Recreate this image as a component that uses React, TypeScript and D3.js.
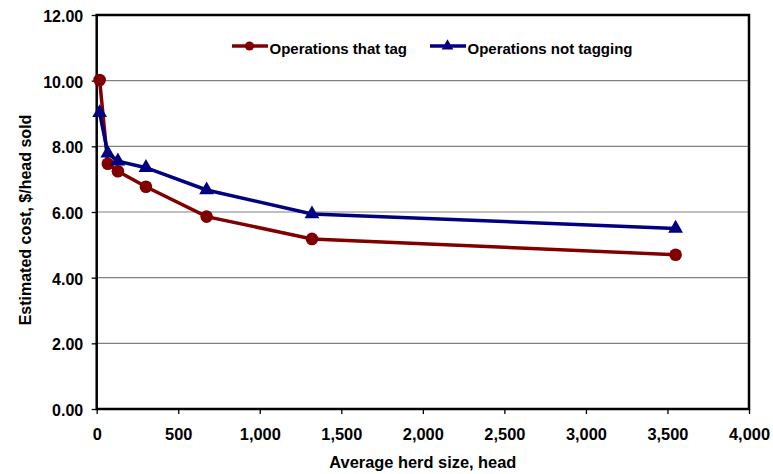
import { useEffect, useRef } from 'react';
import * as d3 from 'd3';

// herd size (head) for each point
const herdSize = [18, 68, 130, 302, 674, 1320, 3550];
// $/head sold
const tagCost = [10.02, 7.47, 7.24, 6.77, 5.86, 5.18, 4.7];
const noTagCost = [9.02, 7.79, 7.55, 7.35, 6.67, 5.94, 5.5];

const seriesNames = ['Operations that tag', 'Operations not tagging'];
const xTicks = [0, 500, 1000, 1500, 2000, 2500, 3000, 3500, 4000];
const yTicks = [0, 2, 4, 6, 8, 10, 12];

export default function App() {
  const ref = useRef<SVGSVGElement>(null);

  useEffect(() => {
    if (!ref.current) return;
    const svg = d3.select(ref.current);
    svg.selectAll('*').remove();

    const left = 96.7, right = 749, top = 15, bottom = 409;
    const font = 'Liberation Sans, Arial, sans-serif';

    const x = d3.scaleLinear().domain([0, 4000]).range([left, right]);
    const y = d3.scaleLinear().domain([0, 12]).range([bottom, top]);

    // gridlines
    svg.append('g')
      .selectAll('line')
      .data(yTicks.filter(t => t > 0 && t < 12))
      .enter()
      .append('line')
      .attr('x1', left).attr('x2', right)
      .attr('y1', d => y(d)).attr('y2', d => y(d))
      .attr('stroke', '#808080')
      .attr('stroke-width', 1.2);

    // axes
    const fmtX = d3.format(',');
    const xAxis = svg.append('g')
      .attr('transform', `translate(0,${bottom})`)
      .call(d3.axisBottom(x).tickValues(xTicks).tickSize(5).tickFormat(d => fmtX(d as number)));
    xAxis.select('.domain').remove();
    xAxis.selectAll('line').attr('stroke', '#000').attr('stroke-width', 1.3);
    xAxis.selectAll('text')
      .attr('y', 31).attr('dy', 0)
      .attr('font-family', font).attr('font-size', 16.4).attr('font-weight', 'bold').attr('fill', '#000');

    const yAxis = svg.append('g')
      .attr('transform', `translate(${left},0)`)
      .call(d3.axisLeft(y).tickValues(yTicks).tickSize(5).tickFormat(d => (d as number).toFixed(2)));
    yAxis.select('.domain').remove();
    yAxis.selectAll('line').attr('stroke', '#000').attr('stroke-width', 1.3);
    yAxis.selectAll('text')
      .attr('x', -13.5).attr('dy', '0.4em')
      .attr('font-family', font).attr('font-size', 16).attr('font-weight', 'bold').attr('fill', '#000');

    // plot frame
    svg.append('rect')
      .attr('x', left).attr('y', top)
      .attr('width', right - left).attr('height', bottom - top)
      .attr('fill', 'none')
      .attr('stroke', '#000')
      .attr('stroke-width', 2.5);

    const colors = ['#800000', '#000080'];
    const values = [tagCost, noTagCost];
    const tri = d3.symbol().type(d3.symbolTriangle).size(95);

    values.forEach((vals, i) => {
      const pts = herdSize.map((h, j) => [h, vals[j]] as [number, number]);
      svg.append('path')
        .attr('d', d3.line<[number, number]>().x(d => x(d[0])).y(d => y(d[1]))(pts))
        .attr('fill', 'none')
        .attr('stroke', colors[i])
        .attr('stroke-width', 3.5);
      if (i === 0) {
        svg.append('g').selectAll('circle')
          .data(pts).enter().append('circle')
          .attr('cx', d => x(d[0])).attr('cy', d => y(d[1]))
          .attr('r', 6.3).attr('fill', colors[i]);
      } else {
        svg.append('g').selectAll('path')
          .data(pts).enter().append('path')
          .attr('d', tri)
          .attr('transform', d => `translate(${x(d[0])},${y(d[1])})`)
          .attr('fill', colors[i]);
      }
    });

    // legend
    const legendX = [232, 430];
    seriesNames.forEach((name, i) => {
      const g = svg.append('g').attr('transform', `translate(${legendX[i]},46)`);
      g.append('line').attr('x1', 0).attr('x2', 36).attr('y1', 0).attr('y2', 0)
        .attr('stroke', colors[i]).attr('stroke-width', 3.5);
      if (i === 0) g.append('circle').attr('cx', 17.5).attr('cy', 0).attr('r', 4.6).attr('fill', colors[i]);
      else g.append('path').attr('d', d3.symbol().type(d3.symbolTriangle).size(60)()).attr('transform', 'translate(17.5,0)').attr('fill', colors[i]);
      g.append('text').attr('x', 37.5).attr('y', 7.5)
        .attr('font-family', font).attr('font-size', 15).attr('font-weight', 'bold')
        .text(name);
    });

    // axis titles
    svg.append('text')
      .attr('x', (left + right) / 2).attr('y', 468)
      .attr('text-anchor', 'middle')
      .attr('font-family', font).attr('font-size', 16.4).attr('font-weight', 'bold')
      .text('Average herd size, head');
    svg.append('text')
      .attr('transform', `translate(31,220) rotate(-90)`)
      .attr('text-anchor', 'middle')
      .attr('font-family', font).attr('font-size', 16).attr('font-weight', 'bold')
      .text('Estimated cost, $/head sold');
  }, []);

  return (
    <svg ref={ref} width={773} height={474}
      style={{ position: 'absolute', left: 0, top: 0, background: '#fff' }} />
  );
}
